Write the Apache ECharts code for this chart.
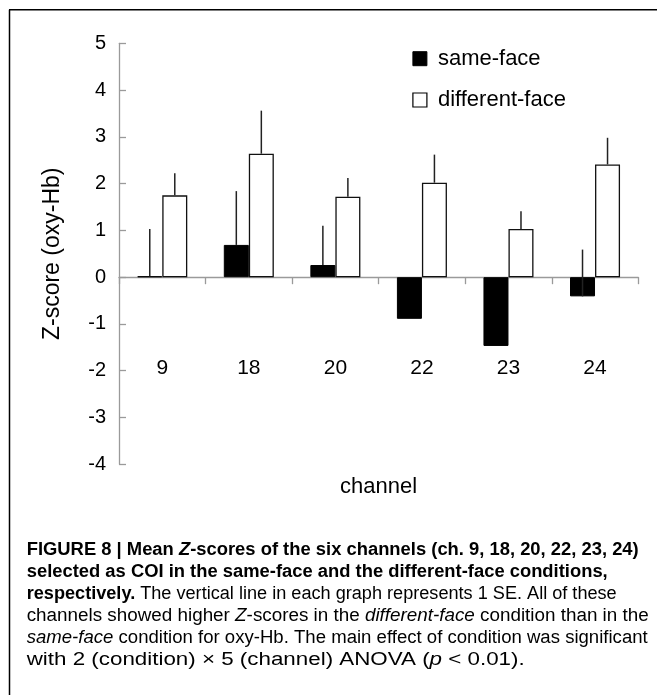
<!DOCTYPE html>
<html>
<head>
<meta charset="utf-8">
<script src="https://cdn.jsdelivr.net/npm/echarts@6/dist/echarts.min.js"></script>
<style>
html,body{margin:0;padding:0;background:#fff;}
#chart{width:657px;height:695px;}
</style>
</head>
<body>
<div id="chart"></div>
<script>
// ---- data ----
const categories = ['9', '18', '20', '22', '23', '24'];
const seriesNames = ['same-face', 'different-face'];
const sameFace = [0.02, 0.69, 0.26, -0.89, -1.47, -0.41];
const sameFaceSE = [1.01, 1.15, 0.84, null, null, 1.00];
const diffFace = [1.75, 2.64, 1.72, 2.02, 1.03, 2.41];
const diffFaceSE = [0.47, 0.92, 0.40, 0.60, 0.38, 0.57];
const yMin = -4, yMax = 5, yStep = 1;
const yTitle = 'Z-score (oxy-Hb)';
const xTitle = 'channel';

const captionLines = [
  [['b', 'FIGURE 8 | Mean '], ['bi', 'Z'], ['b', '-scores of the six channels (ch. 9, 18, 20, 22, 23, 24)']],
  [['b', 'selected as COI in the same-face and the different-face conditions,']],
  [['b', 'respectively.'], ['n', ' The vertical line in each graph represents 1 SE. All of these']],
  [['n', 'channels showed higher '], ['i', 'Z'], ['n', '-scores in the '], ['i', 'different-face'], ['n', ' condition than in the']],
  [['i', 'same-face'], ['n', ' condition for oxy-Hb. The main effect of condition was significant']],
  [['n', 'with 2 (condition) \u00d7 5 (channel) ANOVA ('], ['i', 'p'], ['n', ' < 0.01).']]
];
const captionTargets = [612, 581, 590, 622, 621, 498];
const captionY = [550, 572.3, 594.3, 616.2, 638.3, 660.3];

// ---- layout ----
const FONT = '"Liberation Sans", Arial, sans-serif';
const BAR_FRAC = 0.289;
const capSize = 18;
const styleOf = {
  b: { fontWeight: 'bold', fontStyle: 'normal', color: '#111' },
  bi: { fontWeight: 'bold', fontStyle: 'italic', color: '#111' },
  n: { fontWeight: 'normal', fontStyle: 'normal', color: '#222' },
  i: { fontWeight: 'normal', fontStyle: 'italic', color: '#222' }
};
const cvs = document.createElement('canvas').getContext('2d');
function measure(segs) {
  let w = 0;
  segs.forEach(([k, t]) => {
    const s = styleOf[k];
    cvs.font = (s.fontStyle === 'italic' ? 'italic ' : '') + (s.fontWeight === 'bold' ? 'bold ' : '') + capSize + 'px ' + FONT;
    w += cvs.measureText(t).width;
  });
  return w;
}
const rich = {};
Object.keys(styleOf).forEach(k => {
  rich[k] = Object.assign({ fontSize: capSize, fontFamily: FONT, lineHeight: 20 }, styleOf[k]);
});
const captionGraphics = captionLines.map((segs, i) => {
  const w = measure(segs);
  return {
    type: 'text',
    x: 26.7,
    y: captionY[i],
    scaleX: captionTargets[i] / w,
    style: {
      text: segs.map(([k, t]) => '{' + k + '|' + t + '}').join(''),
      rich: rich,
      verticalAlign: 'middle',
      align: 'left'
    }
  };
});

function errItems(means, ses) {
  const out = [];
  means.forEach((m, i) => { if (ses[i] != null) out.push([i, m, ses[i]]); });
  return out;
}
function errRender(side) {
  return function (params, api) {
    const idx = api.value(0), m = api.value(1), se = api.value(2);
    const band = api.size([1, 0])[0];
    const off = side * band * BAR_FRAC / 2;
    const p1 = api.coord([idx, m]);
    const p2 = api.coord([idx, m + se]);
    return {
      type: 'line',
      shape: { x1: p1[0] + off, y1: p1[1], x2: p2[0] + off, y2: p2[1] },
      style: { stroke: '#222', lineWidth: 1.5 }
    };
  };
}

const chart = echarts.init(document.getElementById('chart'), null, { renderer: 'canvas' });
const axisGray = '#9a9a9a';
chart.setOption({
  animation: false,
  backgroundColor: '#fff',
  textStyle: { fontFamily: FONT },
  grid: { left: 119, right: 18.7, top: 43.3, bottom: 230.7, containLabel: false },
  legend: {
    orient: 'vertical',
    left: 407.3,
    top: 42.7,
    itemWidth: 14,
    itemHeight: 14,
    itemGap: 19.3,
    textStyle: { fontSize: 22, color: '#000', fontFamily: FONT, padding: [0, 0, 0, 6], lineHeight: 22 },
    data: [
      { name: seriesNames[0], icon: 'rect', itemStyle: { color: '#000', borderColor: '#000', borderWidth: 1 } },
      { name: seriesNames[1], icon: 'rect', itemStyle: { color: '#fff', borderColor: '#000', borderWidth: 1.2 } }
    ]
  },
  xAxis: {
    type: 'category',
    data: categories,
    boundaryGap: true,
    axisLine: { onZero: true, lineStyle: { color: axisGray, width: 1.3 } },
    axisTick: { show: true, length: 7, lineStyle: { color: axisGray, width: 1.3 } },
    axisLabel: { margin: -107, fontSize: 21, color: '#000', fontFamily: FONT },
    name: xTitle,
    nameLocation: 'middle',
    nameGap: 12,
    nameTextStyle: { fontSize: 22, color: '#000', fontFamily: FONT }
  },
  yAxis: {
    type: 'value',
    min: yMin,
    max: yMax,
    interval: yStep,
    splitLine: { show: false },
    axisLine: { show: true, lineStyle: { color: axisGray, width: 1.3 } },
    axisTick: { show: true, inside: true, length: 7, lineStyle: { color: axisGray, width: 1.3 } },
    axisLabel: { margin: 13, fontSize: 20, color: '#000', fontFamily: FONT },
    name: yTitle,
    nameLocation: 'middle',
    nameRotate: 90,
    nameGap: 55,
    nameTextStyle: { fontSize: 23, color: '#000', fontFamily: FONT }
  },
  series: [
    {
      name: seriesNames[0], type: 'bar', data: sameFace,
      barWidth: (BAR_FRAC * 100) + '%', barGap: '0%',
      itemStyle: { color: '#000', borderColor: '#000', borderWidth: 1 }
    },
    {
      name: seriesNames[1], type: 'bar', data: diffFace,
      barWidth: (BAR_FRAC * 100) + '%', barGap: '0%',
      itemStyle: { color: '#fff', borderColor: '#111', borderWidth: 1.3 }
    },
    {
      name: 'same-face SE', type: 'custom', data: errItems(sameFace, sameFaceSE),
      renderItem: errRender(-1), encode: { x: 0, y: [1, 2] }, z: 5, silent: true
    },
    {
      name: 'different-face SE', type: 'custom', data: errItems(diffFace, diffFaceSE),
      renderItem: errRender(1), encode: { x: 0, y: [1, 2] }, z: 5, silent: true
    }
  ],
  graphic: [
    { type: 'line', shape: { x1: 9.5, y1: 9.7, x2: 9.5, y2: 695 }, style: { stroke: '#000', lineWidth: 1.5 } },
    { type: 'line', shape: { x1: 9, y1: 9.7, x2: 657, y2: 9.7 }, style: { stroke: '#000', lineWidth: 1.5 } }
  ].concat(captionGraphics)
});
</script>
</body>
</html>
